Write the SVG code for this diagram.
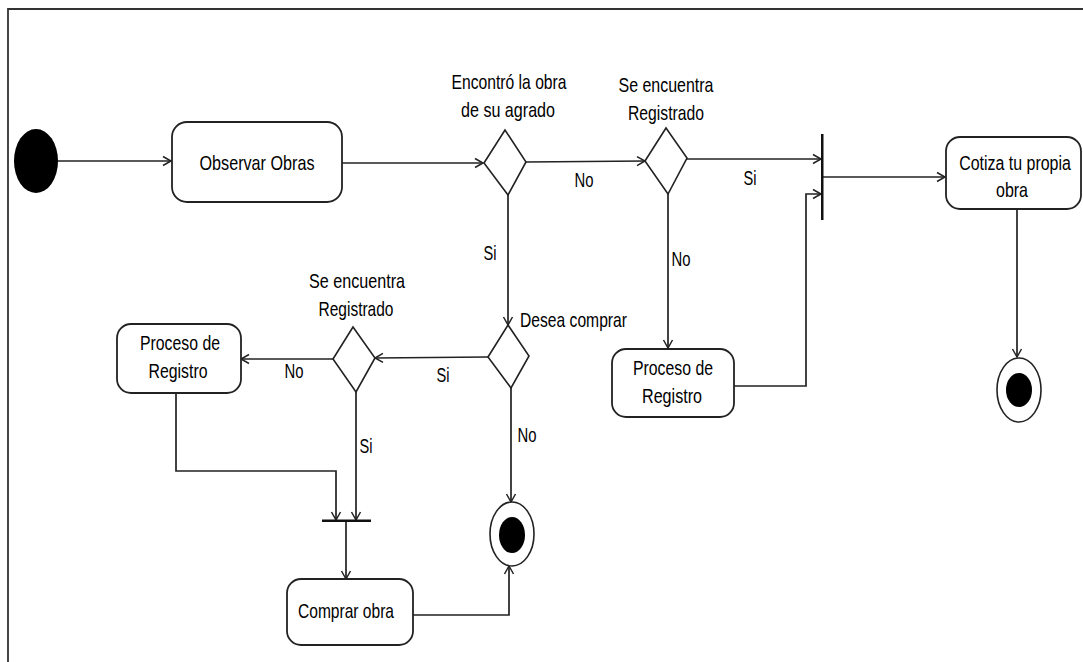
<svg xmlns="http://www.w3.org/2000/svg" width="1083" height="662" viewBox="0 0 1083 662">
<style>
text{font-family:"Liberation Sans",Arial,sans-serif;font-size:21px;fill:#000}
.c{text-anchor:middle}
.box{fill:#fff;stroke:#222;stroke-width:1.8}
.dia{fill:#fff;stroke:#222;stroke-width:1.6}
.ln{fill:none;stroke:#222;stroke-width:1.7}
.bar{fill:#111}
</style>
<defs>
<marker id="ah" markerUnits="userSpaceOnUse" markerWidth="12" markerHeight="14" refX="9" refY="6" orient="auto">
<path d="M1,1.5 L9,6 L1,10.5" fill="none" stroke="#222" stroke-width="1.5"/>
</marker>
</defs>
<rect x="0" y="0" width="1083" height="662" fill="#fff"/>
<g id="frame">
<path d="M1083,9 L8,9 L8,662" fill="none" stroke="#333" stroke-width="1.8"/>
</g>
<g id="connectors">
<path class="ln" d="M58,161 L171,161" marker-end="url(#ah)"/>
<path class="ln" d="M342,163 L483,163" marker-end="url(#ah)"/>
<path class="ln" d="M526,162 L645,161" marker-end="url(#ah)"/>
<text x="584" y="187" class="c" textLength="19" lengthAdjust="spacingAndGlyphs">No</text>
<path class="ln" d="M687,159 L821,159" marker-end="url(#ah)"/>
<text x="750" y="185" class="c" textLength="13" lengthAdjust="spacingAndGlyphs">Si</text>
<path class="ln" d="M823,177 L945,177" marker-end="url(#ah)"/>
<path class="ln" d="M1017,209 L1017,357" marker-end="url(#ah)"/>
<path class="ln" d="M668,194 L668,348" marker-end="url(#ah)"/>
<text x="681" y="266" class="c" textLength="19" lengthAdjust="spacingAndGlyphs">No</text>
<path class="ln" d="M734,386 L806,386 L806,194 L821,194" marker-end="url(#ah)"/>
<path class="ln" d="M508,195 L508,325" marker-end="url(#ah)"/>
<text x="490" y="260" class="c" textLength="13" lengthAdjust="spacingAndGlyphs">Si</text>
<path class="ln" d="M488,357 L375,358" marker-end="url(#ah)"/>
<text x="443" y="382" class="c" textLength="13" lengthAdjust="spacingAndGlyphs">Si</text>
<path class="ln" d="M333,359 L241,359" marker-end="url(#ah)"/>
<text x="294" y="378" class="c" textLength="19" lengthAdjust="spacingAndGlyphs">No</text>
<path class="ln" d="M176,393 L176,471 L336,471 L336,520" marker-end="url(#ah)"/>
<path class="ln" d="M356,392 L356,520" marker-end="url(#ah)"/>
<text x="366" y="453" class="c" textLength="13" lengthAdjust="spacingAndGlyphs">Si</text>
<path class="ln" d="M346,522 L346,579" marker-end="url(#ah)"/>
<path class="ln" d="M413,615 L509,615 L509,566" marker-end="url(#ah)"/>
<path class="ln" d="M511,388 L511,502" marker-end="url(#ah)"/>
<text x="527" y="442" class="c" textLength="19" lengthAdjust="spacingAndGlyphs">No</text>
</g>
<g id="initial">
<ellipse cx="36" cy="161" rx="22" ry="32" fill="#000"/>
</g>
<g id="observar">
<rect class="box" x="172" y="122" width="170" height="80" rx="15"/>
<text x="257" y="170" class="c" textLength="115" lengthAdjust="spacingAndGlyphs">Observar Obras</text>
</g>
<g id="dec-encontro">
<polygon class="dia" points="484,163 505,130 526,162 508,195"/>
<text x="509" y="89" class="c" textLength="115" lengthAdjust="spacingAndGlyphs">Encontró la obra</text>
<text x="508" y="117" class="c" textLength="94" lengthAdjust="spacingAndGlyphs">de su agrado</text>
</g>
<g id="dec-registrado-1">
<polygon class="dia" points="645,161 666,128 687,158 668,194"/>
<text x="666" y="92" class="c" textLength="95" lengthAdjust="spacingAndGlyphs">Se encuentra</text>
<text x="666" y="120" class="c" textLength="76" lengthAdjust="spacingAndGlyphs">Registrado</text>
</g>
<g id="fork-top">
<rect class="bar" x="821" y="134" width="2.5" height="86"/>
</g>
<g id="cotiza">
<rect class="box" x="946" y="137" width="135" height="72" rx="14"/>
<text class="c" transform="translate(1015,170) scale(0.76,1)">Cotiza tu propia</text>
<text x="1012" y="197" class="c" textLength="32" lengthAdjust="spacingAndGlyphs">obra</text>
</g>
<g id="final-1">
<ellipse cx="1019" cy="390" rx="22" ry="32" fill="#fff" stroke="#222" stroke-width="1.6"/>
<ellipse cx="1019" cy="390" rx="13" ry="17" fill="#000"/>
</g>
<g id="proceso-right">
<rect class="box" x="612" y="349" width="122" height="68" rx="14"/>
<text x="673" y="375" class="c" textLength="80" lengthAdjust="spacingAndGlyphs">Proceso de</text>
<text x="672" y="403" class="c" textLength="60" lengthAdjust="spacingAndGlyphs">Registro</text>
</g>
<g id="dec-desea">
<polygon class="dia" points="488,357 508,325 529,356 511,388"/>
<text x="520" y="327" textLength="107" lengthAdjust="spacingAndGlyphs">Desea comprar</text>
</g>
<g id="dec-registrado-2">
<polygon class="dia" points="333,359 353,327 375,358 356,392"/>
<text x="357" y="288" class="c" textLength="96" lengthAdjust="spacingAndGlyphs">Se encuentra</text>
<text x="356" y="316" class="c" textLength="75" lengthAdjust="spacingAndGlyphs">Registrado</text>
</g>
<g id="proceso-left">
<rect class="box" x="117" y="324" width="124" height="69" rx="14"/>
<text x="180" y="350" class="c" textLength="80" lengthAdjust="spacingAndGlyphs">Proceso de</text>
<text x="178" y="378" class="c" textLength="59" lengthAdjust="spacingAndGlyphs">Registro</text>
</g>
<g id="join-bottom">
<rect class="bar" x="322" y="519.5" width="49" height="2.5"/>
</g>
<g id="comprar">
<rect class="box" x="287" y="579" width="126" height="66" rx="14"/>
<text x="346" y="618" class="c" textLength="96" lengthAdjust="spacingAndGlyphs">Comprar obra</text>
</g>
<g id="final-2">
<ellipse cx="512" cy="534" rx="22" ry="32" fill="#fff" stroke="#222" stroke-width="1.6"/>
<ellipse cx="512" cy="535" rx="13" ry="18" fill="#000"/>
</g>
</svg>
